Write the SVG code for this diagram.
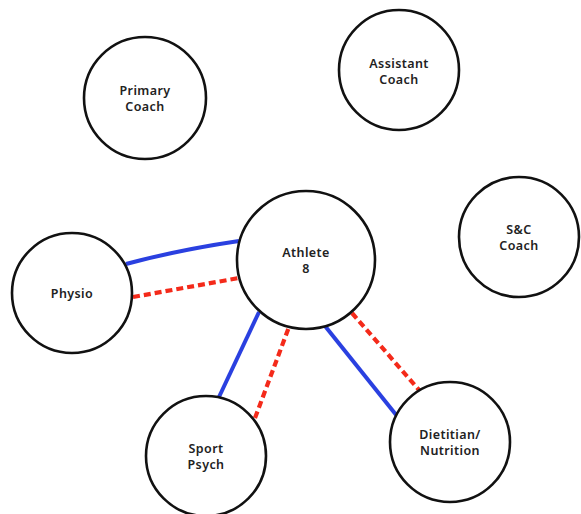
<svg xmlns="http://www.w3.org/2000/svg" width="581" height="514" viewBox="0 0 581 514">
  <style>
    .node circle { fill: #ffffff; stroke: #111111; stroke-width: 2.6; }
    .node text { font-family: "Noto Sans", "Liberation Sans", sans-serif; font-size: 12.5px; font-weight: 600; letter-spacing: 0.4px; fill: #222222; text-anchor: middle; }
    .link { fill: none; stroke-width: 4; }
    .formal { stroke: #2a40e0; }
    .informal { stroke: #f42a1a; stroke-dasharray: 7 4; stroke-width: 4.2; }
  </style>
  <rect width="581" height="514" fill="#ffffff"/>

  <g id="connectors">
    <path class="link formal" d="M126 264 Q178 250 239 241"/>
    <line class="link informal" x1="133" y1="297" x2="239" y2="278"/>
    <line class="link formal" x1="219" y1="397" x2="259" y2="312"/>
    <line class="link informal" x1="255" y1="418" x2="289" y2="327"/>
    <line class="link formal" x1="325" y1="326" x2="397" y2="416"/>
    <line class="link informal" x1="352" y1="313" x2="419" y2="390"/>
  </g>

  <g id="primary-coach" class="node">
    <circle cx="145" cy="98" r="61"/>
    <text x="145" y="95">Primary</text>
    <text x="145" y="111">Coach</text>
  </g>
  <g id="assistant-coach" class="node">
    <circle cx="399" cy="70" r="60"/>
    <text x="399" y="68">Assistant</text>
    <text x="399" y="84">Coach</text>
  </g>
  <g id="sc-coach" class="node">
    <circle cx="519" cy="237" r="60"/>
    <text x="519" y="234">S&amp;C</text>
    <text x="519" y="250">Coach</text>
  </g>
  <g id="athlete" class="node">
    <circle cx="306" cy="260" r="69"/>
    <text x="306" y="257">Athlete</text>
    <text x="306" y="273">8</text>
  </g>
  <g id="physio" class="node">
    <circle cx="72" cy="293" r="60"/>
    <text x="72" y="298">Physio</text>
  </g>
  <g id="sport-psych" class="node">
    <circle cx="206" cy="456" r="60"/>
    <text x="206" y="453">Sport</text>
    <text x="206" y="469">Psych</text>
  </g>
  <g id="dietitian" class="node">
    <circle cx="450" cy="442" r="60"/>
    <text x="450" y="439">Dietitian/</text>
    <text x="450" y="455">Nutrition</text>
  </g>
</svg>
